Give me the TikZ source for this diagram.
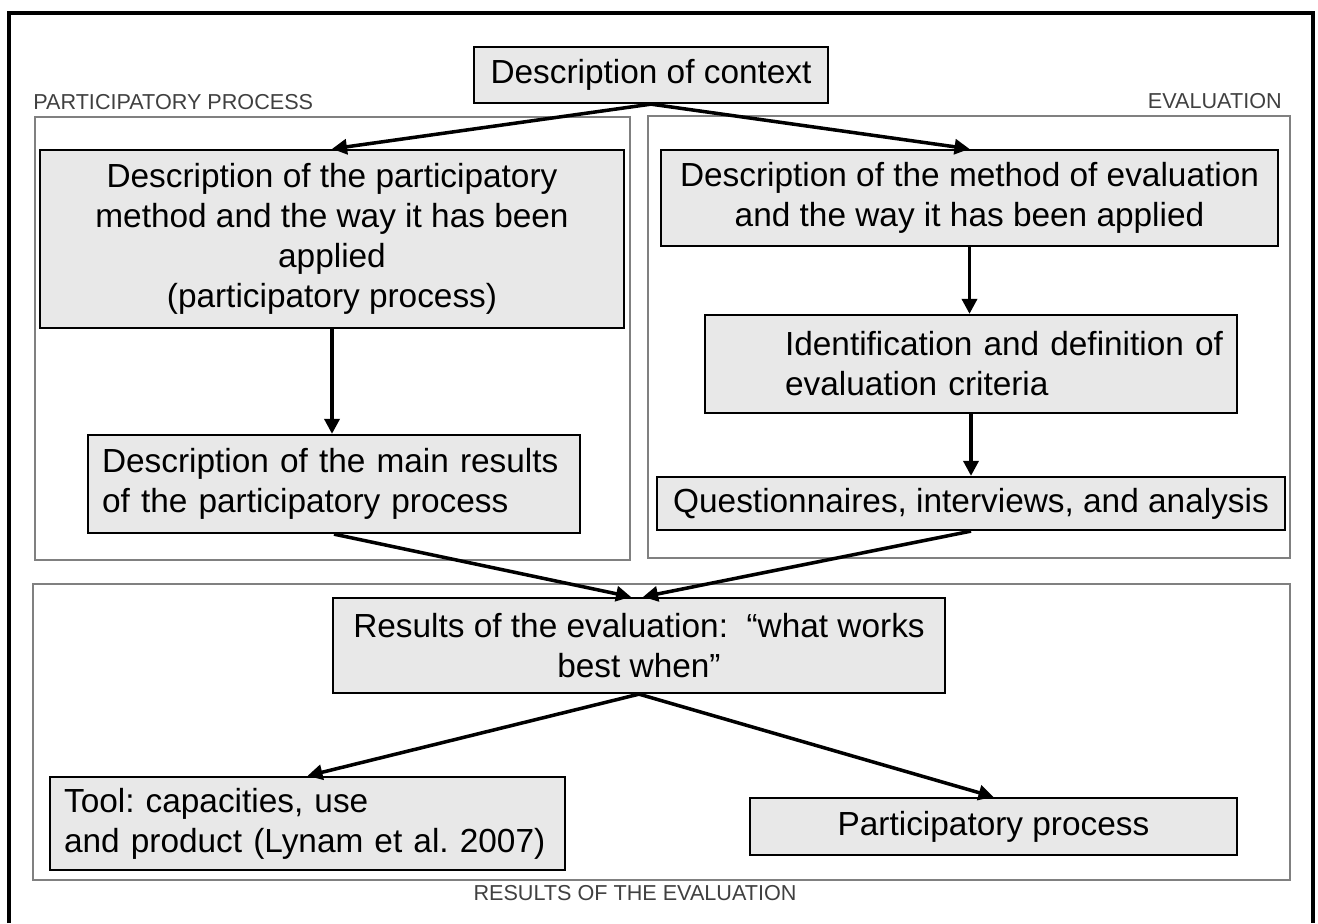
\documentclass[tikz,border=0pt]{standalone}
\usepackage{fontspec}
\setmainfont{Liberation Sans}
\usepackage{tikz}
\usetikzlibrary{positioning, arrows.meta}
\definecolor{boxgray}{HTML}{E8E8E8}
\definecolor{framegray}{HTML}{808080}
\definecolor{labelgray}{HTML}{404040}

\begin{document}
\frenchspacing
\begin{tikzpicture}[x=0.02cm, y=-0.02cm,
        every node/.style={font=\fontsize{19}{22.7}\selectfont},
        box/.style={rectangle, draw, line width=1.3pt, fill=boxgray, align=center, inner sep=0pt},
        leftbox/.style={box, align=left, inner xsep=0.28cm, text width=#1},
        group/.style={draw=framegray, line width=1pt},
        grouplabel/.style={font=\fontsize{12.3}{14}\selectfont, text=labelgray, inner sep=0pt},
        arrow/.style={-{Triangle[length=0.3cm, width=0.3cm]}, line width=2pt}
    ]
    \useasboundingbox (0,0) rectangle (1318,923);
%
    \draw[line width=2.4pt] (9,923) -- (9,13) -- (1313,13) -- (1313,923);
%
    \draw[group] (35,117) rectangle (630,560);
    \draw[group] (648,116) rectangle (1290,558);
    \draw[group] (33,584) rectangle (1290,880);
    \node[grouplabel, anchor=west] (lblpart) at (33,102) {PARTICIPATORY PROCESS};
    \node[grouplabel, anchor=east] (lbleval) at (1282,101) {EVALUATION};
    \node[grouplabel] (lblres) at (635,893) {RESULTS OF THE EVALUATION};
%
    \node[box, minimum width=7.08cm, minimum height=1.12cm] (ctx) at (651,75) {Description of context};
%
    \node[box, minimum width=11.68cm, minimum height=3.56cm] (partmeth) at (332,239) {Description of the participatory\\method and the way it has been\\applied\\(participatory process)};
    \node[leftbox=9.28cm, minimum height=1.96cm] (mainres) at (334,484) {Description of the main results\\of the participatory process};
%
    \node[box, minimum width=12.34cm, minimum height=1.92cm] (evalmeth) at (969.5,198) {Description of the method of evaluation\\and the way it has been applied};
    \node[leftbox=10.44cm, inner xsep=0.1cm, minimum height=1.96cm] (criteria) at (971,364) {\hspace*{1.5cm}Identification and definition of\\\hspace*{1.5cm}evaluation criteria};
    \node[box, minimum width=12.56cm, minimum height=1.06cm] (quest) at (971,503.5) {Questionnaires, interviews, and analysis};
%
    \node[box, minimum width=12.24cm, minimum height=1.9cm] (results) at (639,645.5) {Results of the evaluation:\ \ “what works\\best when”};
    \node[leftbox=9.74cm, minimum height=1.86cm] (tool) at (307.5,823.5) {Tool: capacities, use\\and product (Lynam et al. 2007)};
    \node[box, minimum width=9.74cm, minimum height=1.14cm] (partproc) at (993.5,826.5) {Participatory process};
%
    \draw[arrow] (ctx.south) -- (partmeth.north);
    \draw[arrow] (ctx.south) -- (evalmeth.north);
    \draw[arrow] (partmeth.south) -- (partmeth.south |- mainres.north);
    \draw[arrow] (evalmeth.south) -- (evalmeth.south |- criteria.north);
    \draw[arrow] (criteria.south) -- (criteria.south |- quest.north);
    \draw[arrow] (mainres.south) -- ([xshift=-0.16cm]results.north);
    \draw[arrow] (quest.south) -- ([xshift=0.08cm]results.north);
    \draw[arrow] (results.south) -- (tool.north);
    \draw[arrow] (results.south) -- (partproc.north);
%
\end{tikzpicture}
\end{document}
